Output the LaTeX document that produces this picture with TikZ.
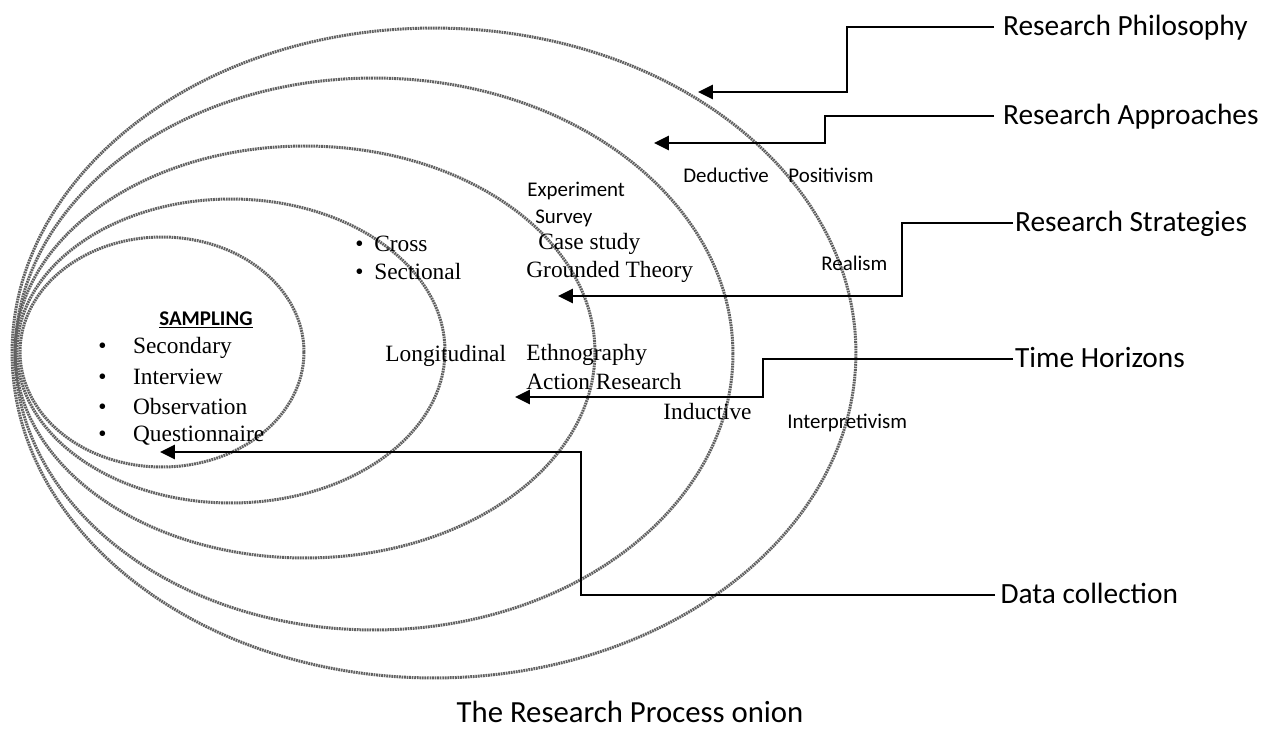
\documentclass[tikz,border=0pt]{standalone}
\usepackage{fontspec}
\setmainfont{Liberation Serif}
\newfontfamily\calfont{Carlito}
\usetikzlibrary{arrows.meta}
\begin{document}
\begin{tikzpicture}[x=0.02cm,y=-0.02cm,
  ring/.style={draw=black!62, line width=1.7pt, dash pattern=on 1pt off 0.45pt},
  conn/.style={draw=black, line width=1.4pt, -{Triangle[length=8.5pt,width=8pt]}},
  big/.style={font=\calfont\fontsize{16.7}{20}\selectfont, inner sep=0pt, anchor=west, text height=10pt, text depth=0pt},
  sm/.style={font=\calfont\fontsize{11.9}{14}\selectfont, inner sep=0pt, anchor=west},
  tm/.style={font=\fontsize{13.3}{16}\selectfont, inner sep=0pt, anchor=west}]
\useasboundingbox (0,0) rectangle (1263,733);
% onion rings
\draw[ring] (434,353) ellipse [x radius=8.44cm, y radius=6.50cm];
\draw[ring] (374,354) ellipse [x radius=7.18cm, y radius=5.52cm];
\draw[ring] (305,352) ellipse [x radius=5.80cm, y radius=4.12cm];
\draw[ring] (231,351) ellipse [x radius=4.28cm, y radius=3.04cm];
\draw[ring] (162,352) ellipse [x radius=2.84cm, y radius=2.30cm];
% right labels
\node[big, inner xsep=5pt] (rp) at (994,27) {Research Philosophy};
\node[big, inner xsep=5pt] (ra) at (994,116) {Research Approaches};
\node[big, inner xsep=1pt] (rs) at (1013,223) {Research Strategies};
\node[big, inner xsep=1pt] (th) at (1013,359) {Time Horizons};
\node[big, inner xsep=3pt] (dc) at (995,595) {Data collection};
% connector points
\coordinate (bP) at (847,92);  \coordinate (tP) at (698,92);
\coordinate (bA) at (825,143); \coordinate (tA) at (654,143);
\coordinate (bS) at (902,296); \coordinate (tS) at (558,296);
\coordinate (bT) at (763,397); \coordinate (tT) at (515,397);
\coordinate (bD) at (581,452); \coordinate (tD) at (160,452);
\draw[conn] (rp.west) -| (bP) -- (tP);
\draw[conn] (ra.west) -| (bA) -- (tA);
\draw[conn] (rs.west) -| (bS) -- (tS);
\draw[conn] (th.west) -| (bT) -- (tT);
\draw[conn] (dc.west) -| (bD) -- (tD);
% inner texts
\node[sm] (exp) at (527,191) {Experiment};
\node[sm] (sur) at (535,218) {Survey};
\node[tm] (cas) at (538,244) {Case study};
\node[tm] (gro) at (526,272) {Grounded Theory};
\node[tm] (cro) at (355,244) {\makebox[10.8pt][l]{\textbullet}Cross};
\node[tm] (sec) at (355,272) {\makebox[10.8pt][l]{\textbullet}Sectional};
\node[tm] (lon) at (385,356) {Longitudinal};
\node[tm] (eth) at (526,355) {Ethnography};
\node[tm] (act) at (526,382) {Action Research};
\node[tm] (ind) at (663,412) {Inductive};
\node[sm] (ded) at (683,175) {Deductive};
\node[sm] (pos) at (788,175) {Positivism};
\node[sm] (rea) at (821,263) {Realism};
\node[sm] (int) at (787,423) {Interpretivism};
\node[sm, anchor=center, font=\calfont\bfseries\fontsize{11.9}{14}\selectfont] (samp) at (206,320) {\underline{SAMPLING}};
\node[tm] (l1) at (98,348) {\makebox[19.8pt][l]{\textbullet}Secondary};
\node[tm] (l2) at (98,377) {\makebox[19.8pt][l]{\textbullet}Interview};
\node[tm] (l3) at (98,407) {\makebox[19.8pt][l]{\textbullet}Observation};
\node[tm] (l4) at (98,436) {\makebox[19.8pt][l]{\textbullet}Questionnaire};
% caption
\node[font=\calfont\fontsize{17.5}{21}\selectfont, inner sep=0pt] (cap) at (630,712) {The Research Process onion};
\end{tikzpicture}
\end{document}
